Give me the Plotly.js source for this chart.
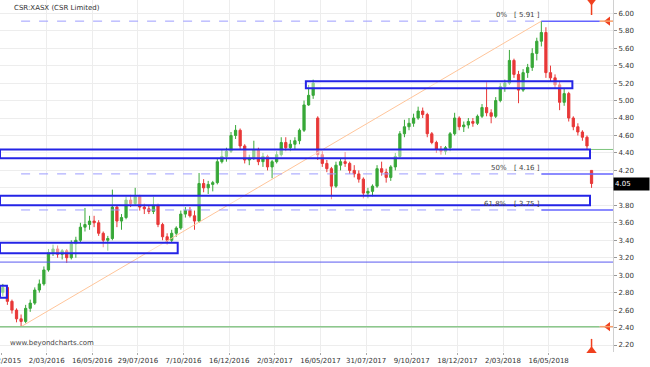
<!DOCTYPE html>
<html>
<head>
<meta charset="utf-8">
<script src="https://cdn.plot.ly/plotly-3.0.1.min.js"></script>
<style>html,body{margin:0;padding:0;background:#fff;}#chart{width:650px;height:367px;}</style>
</head>
<body>
<div id="chart"></div>
<script>
// Weekly OHLC (each candle summarises 5 trading days)
const open  = [2.80,2.86,2.70,2.60,2.50,2.47,2.62,2.68,2.83,2.90,3.06,3.26,3.30,3.24,3.28,3.20,3.36,3.40,3.55,3.58,
               3.62,3.60,3.48,3.40,3.42,3.78,3.62,3.66,3.86,3.82,3.90,3.78,3.76,3.73,3.80,3.58,3.44,3.40,3.48,3.54,
               3.70,3.74,3.68,3.62,4.05,4.00,4.04,4.06,4.30,4.36,4.42,4.60,4.66,4.48,4.32,4.34,4.44,4.30,4.36,4.24,
               4.30,4.38,4.52,4.46,4.50,4.54,4.66,4.95,5.06,4.80,4.38,4.28,4.22,4.02,4.26,4.30,4.28,4.20,4.16,4.10,
               3.94,3.96,4.02,4.22,4.18,4.12,4.24,4.36,4.62,4.70,4.74,4.80,4.88,4.84,4.62,4.52,4.44,4.42,4.46,4.62,
               4.80,4.70,4.72,4.76,4.74,4.82,4.92,4.86,4.82,5.00,5.16,5.20,5.46,5.30,5.12,5.32,5.38,5.54,5.68,5.78,
               5.32,5.26,5.18,4.98,5.08,4.80,4.70,4.64,4.58,4.20];
const high  = [2.90,2.87,2.72,2.62,2.55,2.66,2.72,2.86,2.95,3.10,3.30,3.35,3.34,3.30,3.30,3.40,3.44,3.60,3.77,3.68,
               3.68,3.63,3.50,3.45,3.98,3.80,3.70,3.90,3.92,4.00,3.92,3.82,3.80,3.90,3.82,3.60,3.48,3.52,3.56,3.74,
               3.78,3.78,3.74,4.17,4.10,4.08,4.08,4.34,4.44,4.46,4.64,4.72,4.68,4.50,4.38,4.54,4.46,4.40,4.38,4.32,
               4.42,4.58,4.58,4.55,4.58,4.68,5.00,5.18,5.24,4.82,4.42,4.32,4.24,4.30,4.34,4.41,4.30,4.26,4.20,4.12,
               4.00,4.04,4.26,4.30,4.22,4.26,4.40,4.65,4.78,4.80,4.85,4.93,4.92,4.86,4.64,4.54,4.48,4.48,4.64,4.86,
               4.82,4.76,4.80,4.80,4.84,4.96,5.21,4.90,5.04,5.20,5.24,5.58,5.48,5.34,5.36,5.42,5.60,5.72,5.91,5.84,
               5.40,5.30,5.22,5.14,5.10,4.82,4.74,4.66,4.60,4.20];
const low   = [2.76,2.66,2.56,2.46,2.41,2.45,2.58,2.66,2.80,2.88,3.04,3.22,3.20,3.18,3.14,3.18,3.20,3.38,3.50,3.52,
               3.55,3.45,3.32,3.28,3.40,3.55,3.52,3.64,3.78,3.80,3.74,3.70,3.70,3.70,3.55,3.40,3.35,3.38,3.44,3.52,
               3.66,3.66,3.52,3.60,3.95,3.93,3.96,4.04,4.28,4.30,4.40,4.56,4.44,4.28,4.26,4.32,4.26,4.24,4.20,4.11,
               4.28,4.36,4.42,4.42,4.44,4.50,4.64,4.94,5.02,4.32,4.24,4.18,3.87,4.00,4.20,4.24,4.16,4.12,4.06,3.88,
               3.88,3.90,4.00,4.14,4.06,4.08,4.20,4.34,4.58,4.66,4.70,4.78,4.80,4.58,4.50,4.40,4.38,4.38,4.42,4.60,
               4.66,4.64,4.68,4.70,4.72,4.80,4.82,4.74,4.80,4.98,5.10,5.18,5.26,4.97,5.10,5.26,5.34,5.46,5.62,5.26,
               5.22,5.14,4.89,4.94,4.76,4.66,4.60,4.54,4.44,4.00];
const close = [2.86,2.70,2.60,2.50,2.47,2.62,2.68,2.83,2.90,3.06,3.26,3.30,3.24,3.28,3.20,3.36,3.40,3.55,3.58,3.62,
               3.60,3.48,3.40,3.42,3.78,3.62,3.66,3.86,3.82,3.90,3.78,3.76,3.73,3.80,3.58,3.44,3.40,3.48,3.54,3.70,
               3.74,3.68,3.62,4.05,4.00,4.04,4.06,4.30,4.36,4.42,4.60,4.66,4.48,4.32,4.34,4.44,4.30,4.36,4.24,4.30,
               4.38,4.52,4.46,4.50,4.54,4.66,4.95,5.06,5.20,4.38,4.28,4.22,4.02,4.26,4.30,4.28,4.20,4.16,4.10,3.94,
               3.96,4.02,4.22,4.18,4.12,4.24,4.36,4.62,4.70,4.74,4.80,4.88,4.84,4.62,4.52,4.44,4.42,4.46,4.62,4.80,
               4.70,4.72,4.76,4.74,4.82,4.92,4.86,4.82,5.00,5.16,5.20,5.46,5.30,5.12,5.32,5.38,5.54,5.68,5.78,5.32,
               5.26,5.18,4.98,5.08,4.80,4.70,4.64,4.58,4.48,4.05];

// x-axis labels: one every 50 trading days
const tickLabels = ['17/12/2015','2/03/2016','16/05/2016','29/07/2016','7/10/2016','16/12/2016','2/03/2017',
                    '16/05/2017','31/07/2017','9/10/2017','18/12/2017','2/03/2018','16/05/2018'];
const tickBars = [0,50,100,150,200,250,300,350,400,450,500,550,600];

// y-axis ticks
const priceTicks = [2.2,2.4,2.6,2.8,3.0,3.2,3.4,3.6,3.8,4.0,4.2,4.4,4.6,4.8,5.0,5.2,5.4,5.6,5.8,6.0];

// Support / resistance zones (price bounds, trading-day extents)
const zoneLow   = [2.74, 3.25, 3.80, 4.34, 5.14];
const zoneHigh  = [2.88, 3.37, 3.91, 4.44, 5.22];
const zoneStart = [-1.1, -1.1, -1.1, -1.1, 334];
const zoneEnd   = [6.5, 193.6, 645.3, 645.3, 626];

const supportLevels = [3.15];
const fibRatios = [0, 0.5, 0.618];
const fibNames = ['0%', '50%', '61.8%'];

const barsPerCandle = 5;
const xs = close.map((_, i) => i * barsPerCandle + 2);
const lastX = xs[xs.length - 1];
const lastClose = close[close.length - 1];

const hiVal = Math.max(...high), loVal = Math.min(...low);
const hiX = xs[high.indexOf(hiVal)], loX = xs[low.indexOf(loVal)];
const XMIN = -1.1, XMAX = 670.5;

const blue = '#2424e6', fibDash = '#9d9dff', fibSolid = '#6464ff', orange = '#f7a06c', red = '#f0401e';
const fontFam = 'DejaVu Sans, Verdana, sans-serif';

const traces = [{
  type: 'candlestick', x: xs, open, high, low, close,
  increasing: {line: {color: '#38a838', width: 1}, fillcolor: '#38a838'},
  decreasing: {line: {color: '#e83838', width: 1}, fillcolor: '#e83838'},
  whiskerwidth: 0, hoverinfo: 'skip'
}];

// red event markers at the last bar
traces.push({type:'scatter', mode:'lines', x:[lastX,lastX], y:[6.14,5.98], line:{color:red,width:1.5}, hoverinfo:'skip'});
traces.push({type:'scatter', mode:'lines', x:[lastX,lastX], y:[2.13,2.27], line:{color:red,width:1.5}, hoverinfo:'skip'});
traces.push({type:'scatter', mode:'markers', x:[lastX,lastX], y:[6.14,2.135], cliponaxis:false,
  marker:{symbol:['triangle-down','triangle-up'], size:9, color:red}, hoverinfo:'skip'});
traces.push({type:'scatter', mode:'markers', x:[665,665], y:[hiVal,loVal], cliponaxis:false,
  marker:{symbol:'triangle-left', size:8, color:red}, hoverinfo:'skip'});

const shapes = [];
shapes.push({type:'line', x0:loX, y0:loVal, x1:hiX, y1:hiVal, line:{color:'#ffc59a', width:1}});
shapes.push({type:'line', x0:XMIN, x1:656, y0:loVal, y1:loVal, line:{color:'#8cc88c', width:1.5}});
shapes.push({type:'line', x0:656, x1:XMAX, y0:loVal, y1:loVal, line:{color:orange, width:1.5}});
supportLevels.forEach(v => shapes.push({type:'line', xref:'paper', x0:0, x1:1, y0:v, y1:v, line:{color:'#5a5af0', width:1}}));
shapes.push({type:'line', x0:zoneEnd[3], x1:XMAX, y0:zoneHigh[3], y1:zoneHigh[3], line:{color:'#7cc47c', width:1}});
const annotations = [];
fibRatios.forEach((r, i) => {
  const v = hiVal - r * (hiVal - loVal);
  shapes.push({type:'line', x0:loX, x1:hiX, y0:v, y1:v, line:{color:fibDash, width:1, dash:'dash'}});
  const endX = (r === 0) ? 656 : XMAX;
  shapes.push({type:'line', x0:hiX, x1:endX, y0:v, y1:v, line:{color:fibSolid, width:1.5}});
  if (r === 0) shapes.push({type:'line', x0:656, x1:XMAX, y0:v, y1:v, line:{color:orange, width:1.5}});
  annotations.push({x:hiX, y:v, xanchor:'right', yanchor:'bottom', showarrow:false, xshift:1,
    text:'[ ' + v.toFixed(2) + ' ]', font:{size:7, color:'#444', family:fontFam}});
  annotations.push({x:hiX, y:v, xanchor:'right', yanchor:'bottom', showarrow:false, xshift:-32,
    text:fibNames[i], font:{size:7, color:'#444', family:fontFam}});
});
zoneLow.forEach((lo, i) => shapes.push({type:'rect', x0:zoneStart[i], x1:zoneEnd[i], y0:lo, y1:zoneHigh[i],
  line:{color:blue, width:2}, fillcolor:'rgba(255,255,255,0.45)'}));

annotations.push({xref:'paper', yref:'paper', x:0.019, y:1, xanchor:'left', yanchor:'top', yshift:-2, showarrow:false,
  text:'CSR:XASX (CSR Limited)', font:{size:7, color:'#333', family:fontFam}});
annotations.push({xref:'paper', yref:'paper', x:0.013, y:0.026, xanchor:'left', yanchor:'middle', showarrow:false,
  text:'www.beyondcharts.com', font:{size:7, color:'#444', family:fontFam}});
annotations.push({xref:'paper', x:1, y:lastClose, xanchor:'left', yanchor:'middle', showarrow:false,
  text:lastClose.toFixed(2), bgcolor:'#000', width:33, height:10, align:'left', borderpad:1,
  font:{size:7, color:'#fff', family:fontFam}});

// the last-price box covers the tick label nearest to it
const priceTickText = priceTicks.map(v => Math.abs(v - lastClose) < 0.1 ? '' : v.toFixed(2));

const layout = {
  width:650, height:367, margin:{l:0, r:37, t:0, b:15},
  paper_bgcolor:'#fff', plot_bgcolor:'#fff', showlegend:false,
  xaxis:{range:[XMIN, XMAX], tickvals:tickBars, ticktext:tickLabels, ticks:'outside', ticklen:2, tickcolor:'#aaa',
    ticklabeloverflow:'allow', showgrid:true, gridcolor:'#ededed', zeroline:false, showline:false,
    rangeslider:{visible:false}, tickfont:{size:7, color:'#333', family:fontFam}},
  yaxis:{side:'right', range:[2.12, 6.152], tickvals:priceTicks, ticktext:priceTickText, ticks:'outside', ticklen:3,
    tickcolor:'#999', showgrid:true, gridcolor:'#ededed', zeroline:false, showline:true, linecolor:'#d0d0d0',
    tickfont:{size:7, color:'#333', family:fontFam}},
  shapes, annotations
};

Plotly.newPlot('chart', traces, layout, {staticPlot:true, displayModeBar:false});
</script>
</body>
</html>
